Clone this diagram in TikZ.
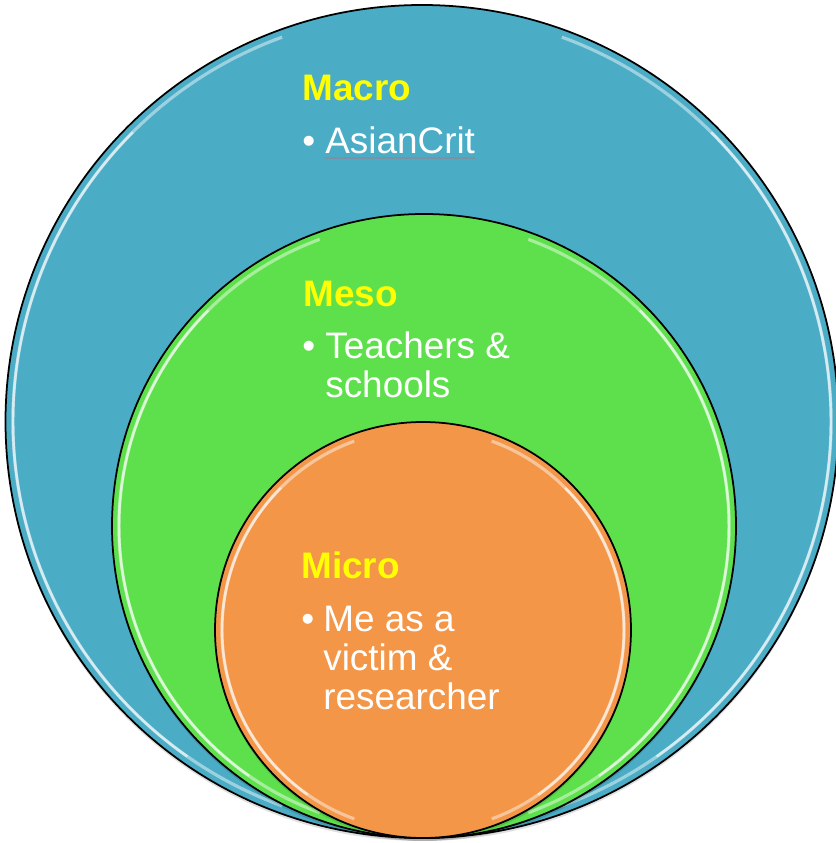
\documentclass[tikz,border=0pt]{standalone}
\usepackage{fontspec}
\setmainfont{Liberation Sans}
\usepackage{tikz}
\usetikzlibrary{calc}
\pgfdeclarelayer{disclayer}
\pgfdeclarelayer{textlayer}
\pgfsetlayers{disclayer,main,textlayer}
\definecolor{macroblue}{RGB}{75,172,198}
\definecolor{mesogreen}{RGB}{94,224,76}
\definecolor{microorange}{RGB}{243,150,72}
\definecolor{headyellow}{RGB}{255,255,0}
\definecolor{linkgray}{RGB}{125,145,165}
\tikzstyle{disc}=[draw=black, line width=1pt]
\tikzstyle{shade}=[fill=black, opacity=0.12]
\tikzstyle{gloss}=[draw=white, line width=1.8pt, opacity=0.45]
\tikzstyle{bright gloss}=[draw=white, line width=1.4pt, opacity=0.6]
\tikzstyle{heading}=[anchor=base west, inner sep=0pt, text=headyellow, font=\fontsize{21}{22}\selectfont\bfseries]
\tikzstyle{item}=[anchor=base west, inner sep=0pt, text=white, font=\fontsize{21}{22}\selectfont]
\tikzstyle{linkline}=[draw=linkgray, line width=0.7pt]

% disc with outline and a shiny rim on both sides: centre, radius, rim radius, fill
\newcommand{\shinydisc}[4]{
  \fill[shade] ($(#1)+(0,-3)$) circle (#2);
  \draw[disc, fill=#4] (#1) circle (#2);
  \draw[gloss] (#1) ++(110:#3) arc[start angle=110, end angle=250, radius=#3];
  \draw[gloss] (#1) ++(-70:#3) arc[start angle=-70, end angle=70, radius=#3];
  \draw[bright gloss] (#1) ++(135:#3) arc[start angle=135, end angle=235, radius=#3];
  \draw[bright gloss] (#1) ++(-55:#3) arc[start angle=-55, end angle=45, radius=#3];
}

\begin{document}
\begin{tikzpicture}[x=0.02cm, y=0.02cm]
    \useasboundingbox (0,0) rectangle (836,843);
    \coordinate (macroc) at (422,421.5);
    \coordinate (mesoc) at (424,317);
    \coordinate (microc) at (423,213);
    	\begin{pgfonlayer}{disclayer}
    		\shinydisc{macroc}{416.5}{409}{macroblue}
    		\shinydisc{mesoc}{312}{305}{mesogreen}
    		\shinydisc{microc}{208}{201}{microorange}
    	\end{pgfonlayer}
    	\begin{pgfonlayer}{textlayer}
    		\node [style=heading] (macrohead) at (302,742) {Macro};
    		\node [style=item] (macrodot) at (302,689) {\textbullet};
    		\node [style=item] (macroitem) at (325,689) {AsianCrit};
    		\draw [style=linkline] ($(macroitem.base west)+(0,-4)$) -- ($(macroitem.base east)+(0,-4)$);

    		\node [style=heading] (mesohead) at (303,536) {Meso};
    		\node [style=item] (mesodot) at (302,484) {\textbullet};
    		\node [style=item] (mesoitem) at (325,484)
    			{\begin{tabular}[t]{@{}l@{}}Teachers \&\\schools\end{tabular}};

    		\node [style=heading] (microhead) at (301,264) {Micro};
    		\node [style=item] (microdot) at (301,211) {\textbullet};
    		\node [style=item] (microitem) at (323,211)
    			{\begin{tabular}[t]{@{}l@{}}Me as a\\victim \&\\researcher\end{tabular}};
    	\end{pgfonlayer}
\end{tikzpicture}
\end{document}
